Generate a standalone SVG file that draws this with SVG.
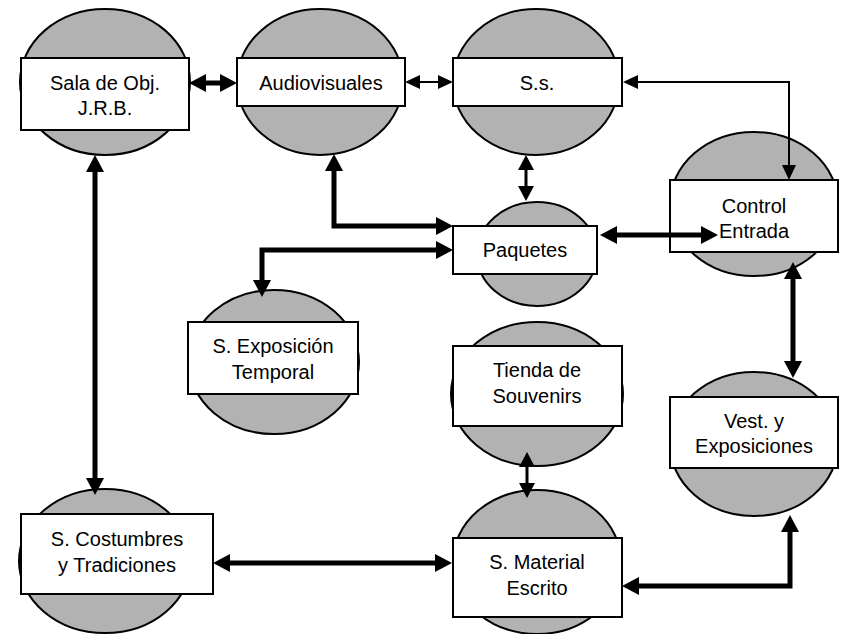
<svg xmlns="http://www.w3.org/2000/svg" width="842" height="634" viewBox="0 0 842 634">
<style>
.bg{fill:#ffffff}
.ell{fill:#b2b2b2;stroke:#000;stroke-width:2}
.box{fill:#ffffff;stroke:#000;stroke-width:2}
.lbl{font-family:"Liberation Sans",Arial,sans-serif;font-size:20px;fill:#000;text-anchor:middle}
.thick{fill:none;stroke:#000;stroke-width:5;stroke-linejoin:miter;marker-start:url(#ahT);marker-end:url(#ahT)}
.med{fill:none;stroke:#000;stroke-width:3;marker-start:url(#ahM);marker-end:url(#ahM)}
.thin{fill:none;stroke:#000;stroke-width:2;stroke-linejoin:miter;marker-start:url(#ahS);marker-end:url(#ahS)}
</style>
<defs>
<marker id="ahT" markerUnits="userSpaceOnUse" markerWidth="17" markerHeight="18" viewBox="0 -9 17 18" refX="1" refY="0" orient="auto-start-reverse"><path d="M0,-9 L17,0 L0,9 z" fill="#000"/></marker>
<marker id="ahM" markerUnits="userSpaceOnUse" markerWidth="15" markerHeight="16" viewBox="0 -8 15 16" refX="1" refY="0" orient="auto-start-reverse"><path d="M0,-8 L15,0 L0,8 z" fill="#000"/></marker>
<marker id="ahS" markerUnits="userSpaceOnUse" markerWidth="15" markerHeight="14" viewBox="0 -7 15 14" refX="1" refY="0" orient="auto-start-reverse"><path d="M0,-7 L15,0 L0,7 z" fill="#000"/></marker>
</defs>
<rect class="bg" x="0" y="0" width="842" height="634"/>

<g id="sala">
<ellipse class="ell" cx="105" cy="82" rx="85" ry="73"/>
<rect class="box" x="21" y="58" width="168" height="72"/>
<text class="lbl" x="105" y="90">Sala de Obj.</text>
<text class="lbl" x="105" y="115">J.R.B.</text>
</g>
<g id="audiovisuales">
<ellipse class="ell" cx="320" cy="82" rx="83" ry="73"/>
<rect class="box" x="237" y="58" width="168" height="48"/>
<text class="lbl" x="321" y="90">Audiovisuales</text>
</g>
<g id="ss">
<ellipse class="ell" cx="536" cy="82" rx="83" ry="73"/>
<rect class="box" x="453" y="58" width="169" height="48"/>
<text class="lbl" x="537" y="90">S.s.</text>
</g>
<g id="control">
<ellipse class="ell" cx="754" cy="204" rx="84" ry="72"/>
<rect class="box" x="670" y="180" width="168" height="72"/>
<text class="lbl" x="754" y="213">Control</text>
<text class="lbl" x="754" y="238">Entrada</text>
</g>
<g id="paquetes">
<ellipse class="ell" cx="537" cy="254" rx="60" ry="52"/>
<rect class="box" x="453" y="226" width="144" height="48"/>
<text class="lbl" x="525" y="257">Paquetes</text>
</g>
<g id="exposicion">
<ellipse class="ell" cx="274" cy="362" rx="85" ry="72"/>
<rect class="box" x="188" y="322" width="170" height="72"/>
<text class="lbl" x="273" y="353">S. Exposición</text>
<text class="lbl" x="273" y="379">Temporal</text>
</g>
<g id="tienda">
<ellipse class="ell" cx="537" cy="394" rx="86" ry="72"/>
<rect class="box" x="453" y="346" width="169" height="80"/>
<text class="lbl" x="537" y="377">Tienda de</text>
<text class="lbl" x="537" y="403">Souvenirs</text>
</g>
<g id="vest">
<ellipse class="ell" cx="754" cy="444" rx="84" ry="72"/>
<rect class="box" x="670" y="397" width="168" height="71"/>
<text class="lbl" x="754" y="428">Vest. y</text>
<text class="lbl" x="754" y="453">Exposiciones</text>
</g>
<g id="material">
<ellipse class="ell" cx="537" cy="562" rx="84" ry="72"/>
<rect class="box" x="453" y="538" width="169" height="79"/>
<text class="lbl" x="537" y="569">S. Material</text>
<text class="lbl" x="537" y="595">Escrito</text>
</g>
<g id="costumbres">
<ellipse class="ell" cx="105" cy="561" rx="86" ry="72"/>
<rect class="box" x="21" y="514" width="192" height="80"/>
<text class="lbl" x="117" y="546">S. Costumbres</text>
<text class="lbl" x="117" y="572">y Tradiciones</text>
</g>

<g id="connectors">
<path class="thick" d="M205,83 H221"/>
<path class="thin" d="M419,82 H439"/>
<path class="thin" d="M789,166 V82 H637"/>
<path class="thick" d="M334,170 V226 H437"/>
<path class="med" d="M526,169 V187"/>
<path class="thick" d="M437,250 H262 V281"/>
<path class="thick" d="M616,235 H702"/>
<path class="thick" d="M793,278 V362"/>
<path class="med" d="M527,466 V484"/>
<path class="thick" d="M638,586 H790 V531"/>
<path class="thick" d="M229,563 H436"/>
<path class="thick" d="M95,171 V479"/>
</g>
</svg>
